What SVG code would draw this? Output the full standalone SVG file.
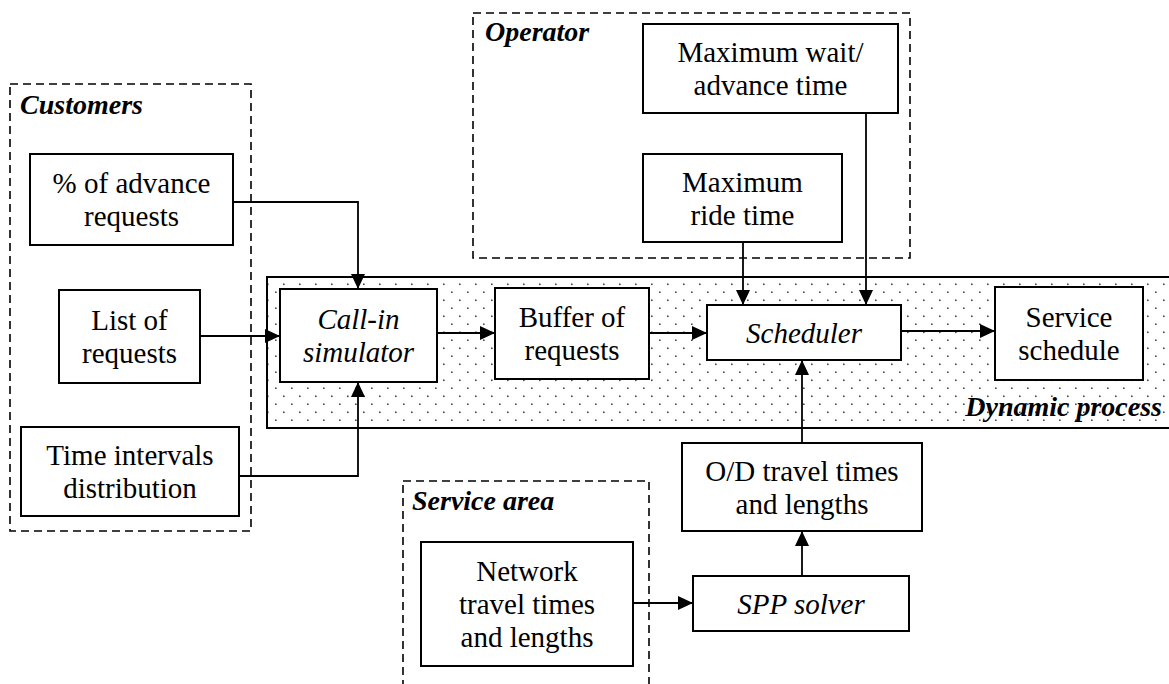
<svg xmlns="http://www.w3.org/2000/svg" width="1169" height="684" viewBox="0 0 1169 684">
<style>
.box{fill:#fff;stroke:#000;stroke-width:2}
.grp{fill:none;stroke:#000;stroke-width:1.6;stroke-dasharray:8 5}
.c{fill:none;stroke:#000;stroke-width:1.8}
</style>
<defs>
<pattern id="dots" x="267" y="277" width="16" height="16" patternUnits="userSpaceOnUse">
<rect x="0" y="6.5" width="1.6" height="1.6" fill="#444"/>
<rect x="8" y="14.5" width="1.6" height="1.6" fill="#444"/>
</pattern>
<marker id="ah" markerUnits="userSpaceOnUse" markerWidth="15" markerHeight="14" refX="15" refY="7" orient="auto">
<path d="M0,0 L15,7 L0,14 z" fill="#000"/>
</marker>
</defs>
<rect width="1169" height="684" fill="#fff"/>

<g id="customers">
<rect class="grp" x="10" y="84" width="241" height="447"/>
<text x="20" y="114" style="font-family:Liberation Serif;font-size:28px;font-weight:bold;font-style:italic">Customers</text>
</g>
<g id="operator">
<rect class="grp" x="473" y="13" width="437" height="245"/>
<text x="485" y="41" style="font-family:Liberation Serif;font-size:28px;font-weight:bold;font-style:italic">Operator</text>
</g>
<g id="service-area">
<rect class="grp" x="403" y="481" width="246" height="215"/>
<text x="412" y="510" style="font-family:Liberation Serif;font-size:28px;font-weight:bold;font-style:italic">Service area</text>
</g>
<g id="dynamic-process">
<rect x="267" y="277" width="906" height="151" fill="url(#dots)" stroke="#000" stroke-width="2"/>
<text x="1162" y="416" style="font-family:Liberation Serif;font-size:28px;font-weight:bold;font-style:italic;text-anchor:end">Dynamic process</text>
</g>

<g id="pct-advance">
<rect class="box" x="30" y="154" width="203" height="91"/>
<text x="131.5" y="193" style="font-family:Liberation Serif;font-size:29px;text-anchor:middle">% of advance</text>
<text x="131.5" y="226" style="font-family:Liberation Serif;font-size:29px;text-anchor:middle">requests</text>
</g>
<g id="list-requests">
<rect class="box" x="59" y="290" width="141" height="93"/>
<text x="129.5" y="330" style="font-family:Liberation Serif;font-size:29px;text-anchor:middle">List of</text>
<text x="129.5" y="363" style="font-family:Liberation Serif;font-size:29px;text-anchor:middle">requests</text>
</g>
<g id="time-intervals">
<rect class="box" x="21" y="427" width="218" height="89"/>
<text x="130" y="465" style="font-family:Liberation Serif;font-size:29px;text-anchor:middle">Time intervals</text>
<text x="130" y="498" style="font-family:Liberation Serif;font-size:29px;text-anchor:middle">distribution</text>
</g>
<g id="max-wait">
<rect class="box" x="643" y="24" width="255" height="89"/>
<text x="770.5" y="62" style="font-family:Liberation Serif;font-size:29px;text-anchor:middle">Maximum wait/</text>
<text x="770.5" y="95" style="font-family:Liberation Serif;font-size:29px;text-anchor:middle">advance time</text>
</g>
<g id="max-ride">
<rect class="box" x="643" y="154" width="199" height="88"/>
<text x="742.5" y="191.5" style="font-family:Liberation Serif;font-size:29px;text-anchor:middle">Maximum</text>
<text x="742.5" y="224.5" style="font-family:Liberation Serif;font-size:29px;text-anchor:middle">ride time</text>
</g>
<g id="call-in">
<rect class="box" x="280" y="289" width="157" height="93"/>
<text x="358.5" y="329" style="font-family:Liberation Serif;font-size:29px;text-anchor:middle;font-style:italic">Call-in</text>
<text x="358.5" y="362" style="font-family:Liberation Serif;font-size:29px;text-anchor:middle;font-style:italic">simulator</text>
</g>
<g id="buffer">
<rect class="box" x="495" y="288" width="154" height="91"/>
<text x="572" y="327" style="font-family:Liberation Serif;font-size:29px;text-anchor:middle">Buffer of</text>
<text x="572" y="360" style="font-family:Liberation Serif;font-size:29px;text-anchor:middle">requests</text>
</g>
<g id="scheduler">
<rect class="box" x="707" y="305" width="194" height="55"/>
<text x="804" y="342.5" style="font-family:Liberation Serif;font-size:29px;text-anchor:middle;font-style:italic">Scheduler</text>
</g>
<g id="service-schedule">
<rect class="box" x="995" y="287" width="148" height="93"/>
<text x="1069" y="327" style="font-family:Liberation Serif;font-size:29px;text-anchor:middle">Service</text>
<text x="1069" y="360" style="font-family:Liberation Serif;font-size:29px;text-anchor:middle">schedule</text>
</g>
<g id="od-times">
<rect class="box" x="682" y="443" width="240" height="88"/>
<text x="802" y="480.5" style="font-family:Liberation Serif;font-size:29px;text-anchor:middle">O/D travel times</text>
<text x="802" y="513.5" style="font-family:Liberation Serif;font-size:29px;text-anchor:middle">and lengths</text>
</g>
<g id="spp-solver">
<rect class="box" x="693" y="576" width="216" height="55"/>
<text x="801" y="613.5" style="font-family:Liberation Serif;font-size:29px;text-anchor:middle;font-style:italic">SPP solver</text>
</g>
<g id="network">
<rect class="box" x="421" y="542" width="212" height="124"/>
<text x="527" y="581" style="font-family:Liberation Serif;font-size:29px;text-anchor:middle">Network</text>
<text x="527" y="614" style="font-family:Liberation Serif;font-size:29px;text-anchor:middle">travel times</text>
<text x="527" y="647" style="font-family:Liberation Serif;font-size:29px;text-anchor:middle">and lengths</text>
</g>

<g id="connectors">
<path class="c" d="M233,202 H358 V289" marker-end="url(#ah)"/>
<path class="c" d="M200,336 H280" marker-end="url(#ah)"/>
<path class="c" d="M239,476 H358 V382" marker-end="url(#ah)"/>
<path class="c" d="M437,333 H495" marker-end="url(#ah)"/>
<path class="c" d="M649,333 H707" marker-end="url(#ah)"/>
<path class="c" d="M901,331 H995" marker-end="url(#ah)"/>
<path class="c" d="M743,242 V305" marker-end="url(#ah)"/>
<path class="c" d="M866,113 V305" marker-end="url(#ah)"/>
<path class="c" d="M802,443 V360" marker-end="url(#ah)"/>
<path class="c" d="M802,576 V531" marker-end="url(#ah)"/>
<path class="c" d="M633,603 H693" marker-end="url(#ah)"/>
</g>
</svg>
